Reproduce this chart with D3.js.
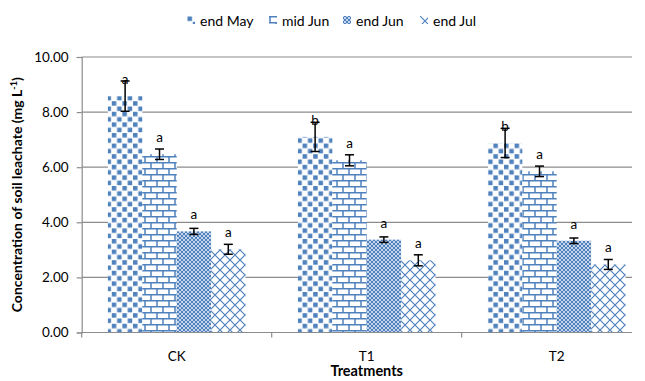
<!DOCTYPE html>
<html>
<head>
<meta charset="utf-8">
<script src="https://cdnjs.cloudflare.com/ajax/libs/d3/7.8.5/d3.min.js"></script>
<style>
  body { margin: 0; background: #fff; }
  text { font-family: Lato, "Open Sans", "Liberation Sans", sans-serif; }
</style>
</head>
<body>
<script>
var categories = ["CK", "T1", "T2"];
var series = ["end May", "mid Jun", "end Jun", "end Jul"];

// means per series, in category order
var endMay = [8.58, 7.10, 6.88];
var midJun = [6.47, 6.25, 5.85];
var endJun = [3.67, 3.37, 3.33];
var endJul = [3.02, 2.62, 2.47];

// standard errors
var errMay = [0.55, 0.53, 0.53];
var errMidJun = [0.19, 0.2, 0.19];
var errEndJun = [0.11, 0.1, 0.1];
var errJul = [0.18, 0.2, 0.18];

// significance letters
var lettersMay = ["a", "b", "b"];
var lettersMidJun = ["a", "a", "a"];
var lettersEndJun = ["a", "a", "a"];
var lettersJul = ["a", "a", "a"];

var yTicks = [0, 2, 4, 6, 8, 10];

var values = [endMay, midJun, endJun, endJul];
var errs = [errMay, errMidJun, errEndJun, errJul];
var letters = [lettersMay, lettersMidJun, lettersEndJun, lettersJul];

var data = [];
categories.forEach(function(c, ci) {
  series.forEach(function(s, si) {
    data.push({ cat: c, ser: s, si: si, v: values[si][ci], e: errs[si][ci], l: letters[si][ci] });
  });
});

var width = 645, height = 381;
var blue = "#4f81bd";
var plotLeft = 81.7, plotRight = 651.7, plotTop = 57, plotBottom = 332.5;
var lineEnd = 632;

var svg = d3.select("body").append("svg")
  .attr("width", width)
  .attr("height", height);

// patterns
var defs = svg.append("defs");

var p0 = defs.append("pattern").attr("id", "pat0")
  .attr("patternUnits", "userSpaceOnUse").attr("width", 10.6).attr("height", 10.6);
p0.append("rect").attr("width", 10.6).attr("height", 10.6).attr("fill", "#fff");
p0.append("rect").attr("x", 0.5).attr("y", 0.5).attr("width", 4.5).attr("height", 4.5).attr("fill", blue);
p0.append("rect").attr("x", 5.8).attr("y", 5.8).attr("width", 4.5).attr("height", 4.5).attr("fill", blue);

var p1 = defs.append("pattern").attr("id", "pat1")
  .attr("patternUnits", "userSpaceOnUse").attr("width", 12).attr("height", 12);
p1.append("rect").attr("width", 12).attr("height", 12).attr("fill", "#fff");
p1.append("path").attr("d", "M0,0.75H12M0,6.75H12M1,0V6M7,6V12")
  .attr("stroke", blue).attr("stroke-width", 1.5).attr("fill", "none");

var p2 = defs.append("pattern").attr("id", "pat2")
  .attr("patternUnits", "userSpaceOnUse").attr("width", 4).attr("height", 4);
p2.append("rect").attr("width", 4).attr("height", 4).attr("fill", blue);
p2.append("path").attr("d", "M0,0L4,4M4,0L0,4")
  .attr("stroke", "#d3dff0").attr("stroke-width", 0.9).attr("fill", "none");

var p3 = defs.append("pattern").attr("id", "pat3")
  .attr("patternUnits", "userSpaceOnUse").attr("width", 10).attr("height", 10);
p3.append("rect").attr("width", 10).attr("height", 10).attr("fill", "#fff");
p3.append("path").attr("d", "M0,0L10,10M10,0L0,10")
  .attr("stroke", blue).attr("stroke-width", 1.2).attr("fill", "none");

var fills = ["url(#pat0)", "url(#pat1)", "url(#pat2)", "url(#pat3)"];

var x0 = d3.scaleBand().domain(categories).range([plotLeft, plotRight])
  .paddingInner(0.276).paddingOuter(0.138);
var x1 = d3.scaleBand().domain(series).range([0, x0.bandwidth()]);
var y = d3.scaleLinear().domain([0, 10]).range([plotBottom, plotTop]);

// gridlines
svg.append("g").selectAll("line").data(yTicks.filter(function(d) { return d > 0; }))
  .enter().append("line")
  .attr("x1", plotLeft).attr("x2", lineEnd)
  .attr("y1", function(d) { return y(d); }).attr("y2", function(d) { return y(d); })
  .attr("stroke", "#8c8c8c").attr("stroke-width", 1.2);

// y axis
var yAxis = svg.append("g").attr("transform", "translate(" + plotLeft + ",0)")
  .call(d3.axisLeft(y).tickValues(yTicks).tickFormat(d3.format(".2f")).tickSize(5).tickPadding(8));
yAxis.select(".domain").attr("stroke", "#8c8c8c").attr("stroke-width", 1.2);
yAxis.selectAll(".tick line").attr("stroke", "#8c8c8c").attr("stroke-width", 1.2);
yAxis.selectAll("text").attr("font-size", 13.5).attr("fill", "#000")
  .style("font-family", "Lato, 'Open Sans', sans-serif");

// bars
var g = svg.append("g");
g.selectAll("rect").data(data).enter().append("rect")
  .attr("x", function(d) { return x0(d.cat) + x1(d.ser); })
  .attr("width", x1.bandwidth())
  .attr("y", function(d) { return y(d.v); })
  .attr("height", function(d) { return y(0) - y(d.v); })
  .attr("fill", function(d) { return fills[d.si]; });

// x axis
var xAxis = svg.append("g").attr("transform", "translate(0," + plotBottom + ")");
xAxis.append("line").attr("x1", plotLeft).attr("x2", lineEnd).attr("y1", 0).attr("y2", 0)
  .attr("stroke", "#8c8c8c").attr("stroke-width", 1.2);
var bounds = categories.map(function(c) { return x0(c) - x0.step() * 0.138; });
xAxis.selectAll(".tk").data(bounds).enter().append("line")
  .attr("x1", function(d) { return d; }).attr("x2", function(d) { return d; })
  .attr("y1", 0).attr("y2", 5).attr("stroke", "#8c8c8c").attr("stroke-width", 1.2);
xAxis.selectAll("text").data(categories).enter().append("text")
  .attr("x", function(d) { return x0(d) + x0.bandwidth() / 2; })
  .attr("y", 28).attr("text-anchor", "middle").attr("font-size", 13.5)
  .text(function(d) { return d; });

// error bars
var eb = svg.append("g").attr("stroke", "#000").attr("stroke-width", 1.5);
data.forEach(function(d) {
  var cx = x0(d.cat) + x1(d.ser) + x1.bandwidth() / 2;
  var yt = y(d.v + d.e), yb = y(d.v - d.e);
  eb.append("line").attr("x1", cx).attr("x2", cx).attr("y1", yt).attr("y2", yb);
  eb.append("line").attr("x1", cx - 4.5).attr("x2", cx + 4.5).attr("y1", yt).attr("y2", yt);
  eb.append("line").attr("x1", cx - 4.5).attr("x2", cx + 4.5).attr("y1", yb).attr("y2", yb);
});

// letters
svg.append("g").selectAll("text").data(data).enter().append("text")
  .attr("x", function(d) { return x0(d.cat) + x1(d.ser) + x1.bandwidth() / 2; })
  .attr("y", function(d) { return y(d.v) - 12; })
  .attr("text-anchor", "middle").attr("font-size", 13.5)
  .text(function(d) { return d.l; });

// axis titles
svg.append("text").attr("x", (plotLeft + plotRight) / 2).attr("y", 376)
  .attr("text-anchor", "middle").attr("font-size", 14.5).attr("font-weight", "bold")
  .text("Treatments");

var ytitle = svg.append("text")
  .attr("transform", "translate(22," + ((plotTop + plotBottom) / 2) + ") rotate(-90)")
  .attr("text-anchor", "middle").attr("font-size", 14).attr("font-weight", "bold");
ytitle.append("tspan").text("Concentration of soil leachate (mg L");
ytitle.append("tspan").attr("dy", -5).attr("font-size", 9).text("-1");
ytitle.append("tspan").attr("dy", 5).text(")");

// legend
var legX = [187, 269, 343, 420];
var leg = svg.append("g").selectAll("g").data(series).enter().append("g")
  .attr("transform", function(d, i) { return "translate(" + legX[i] + ",16)"; });
leg.append("rect").attr("width", 8).attr("height", 8)
  .attr("fill", function(d, i) { return fills[i]; });
leg.append("text").attr("x", 13).attr("y", 9.5).attr("font-size", 14)
  .text(function(d) { return d; });
</script>
</body>
</html>
